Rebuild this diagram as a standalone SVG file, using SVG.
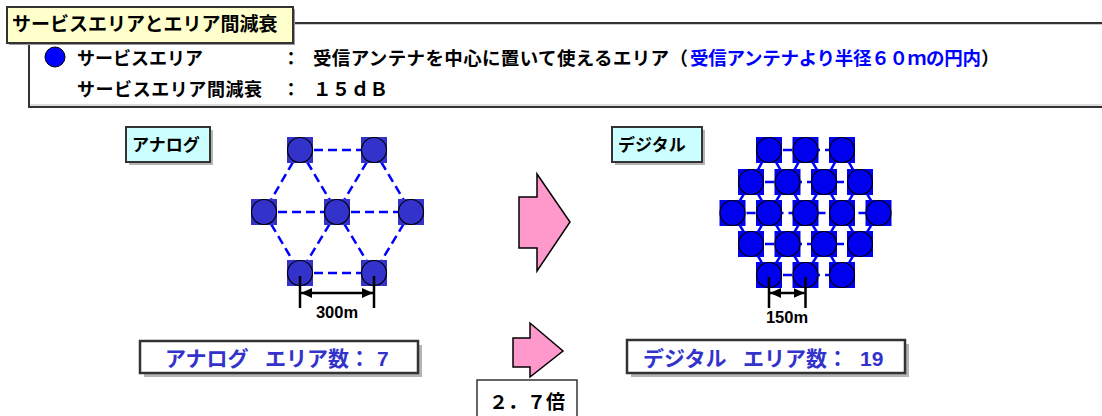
<svg xmlns="http://www.w3.org/2000/svg" width="1102" height="416" viewBox="0 0 1102 416">
<style>
.t{font-family:"Liberation Sans","Noto Sans CJK JP",sans-serif;font-weight:bold;}
.dash{stroke:#0000ff;stroke-width:2.5;stroke-dasharray:9 5;fill:none;}
.an rect{fill:#3333cc;}
.an circle{fill:#3333cc;stroke:#000;stroke-width:1.2;}
.dg rect{fill:#0000ee;}
.dg circle{fill:#0000ee;stroke:#000;stroke-width:1.2;}
.dim{stroke:#000;stroke-width:2.5;fill:none;}
.pink{fill:#ff99cc;stroke:#000;stroke-width:1.5;stroke-linejoin:miter;}
.shadow{fill:#b4b4b4;}
.frame{stroke:#333;stroke-width:2;}
</style>
<defs>
<marker id="ah" markerUnits="userSpaceOnUse" markerWidth="11" markerHeight="10" refX="11" refY="5" orient="auto-start-reverse">
<path d="M0,0 L11,5 L0,10 z" fill="#000"/>
</marker>
</defs>
<rect width="1102" height="416" fill="#fff"/>

<g id="frame">
<line x1="293" y1="24.5" x2="1102" y2="24.5" stroke="#ccc" stroke-width="1"/>
<line class="frame" x1="293" y1="23" x2="1102" y2="23"/>
<line x1="30" y1="105" x2="1102" y2="105" stroke="#bbb" stroke-width="1"/>
<line class="frame" x1="29" y1="107" x2="1102" y2="107"/>
<line class="frame" x1="29" y1="43" x2="29" y2="108"/>
</g>

<g id="title">
<rect x="9" y="9" width="286" height="36" fill="#999"/>
<rect x="7" y="7" width="286" height="36" fill="#ffffcc" stroke="#333" stroke-width="2"/>
<text class="t" x="12" y="31" font-size="19" fill="#000">サービスエリアとエリア間減衰</text>
</g>

<g id="legend">
<circle cx="55" cy="57" r="10" fill="#0000ff" stroke="#000" stroke-width="1"/>
<text class="t" x="77" y="65" font-size="18" fill="#000">サービスエリア</text>
<text class="t" x="291" y="65" font-size="18" fill="#000" text-anchor="middle">：</text>
<text class="t" x="313" y="65" font-size="18.5" fill="#000" textLength="375">受信アンテナを中心に置いて使えるエリア（</text>
<text class="t" x="690" y="65" font-size="18.5" fill="#0000ff" textLength="291">受信アンテナより半径６０ｍの円内</text>
<text class="t" x="981" y="65" font-size="18.5" fill="#000">）</text>
<text class="t" x="77" y="96" font-size="18" fill="#000" textLength="185">サービスエリア間減衰</text>
<text class="t" x="291" y="96" font-size="18" fill="#000" text-anchor="middle">：</text>
<text class="t" x="313" y="96" font-size="18.5" fill="#000" textLength="75">１５ｄＢ</text>
</g>

<g id="label-analog">
<rect class="shadow" x="129" y="130" width="84" height="35"/>
<rect x="126" y="127" width="84" height="35" fill="#ccffff" stroke="#333" stroke-width="2"/>
<text class="t" x="132" y="151" font-size="17" fill="#000">アナログ</text>
</g>

<g id="label-digital">
<rect class="shadow" x="615" y="130" width="90" height="35"/>
<rect x="612" y="127" width="90" height="35" fill="#ccffff" stroke="#333" stroke-width="2"/>
<text class="t" x="618" y="151" font-size="17" fill="#000">デジタル</text>
</g>

<g id="connectors">
<line class="dash" x1="300" y1="150" x2="374" y2="150"/>
<line class="dash" x1="264" y1="212" x2="337" y2="212"/>
<line class="dash" x1="337" y1="212" x2="411" y2="212"/>
<line class="dash" x1="300" y1="273" x2="374" y2="273"/>
<line class="dash" x1="300" y1="150" x2="264" y2="212"/>
<line class="dash" x1="300" y1="150" x2="337" y2="212"/>
<line class="dash" x1="374" y1="150" x2="337" y2="212"/>
<line class="dash" x1="374" y1="150" x2="411" y2="212"/>
<line class="dash" x1="264" y1="212" x2="300" y2="273"/>
<line class="dash" x1="337" y1="212" x2="300" y2="273"/>
<line class="dash" x1="337" y1="212" x2="374" y2="273"/>
<line class="dash" x1="411" y1="212" x2="374" y2="273"/>
<line class="dash" x1="769" y1="150" x2="842" y2="150"/>
<line class="dash" x1="751" y1="182" x2="860" y2="182"/>
<line class="dash" x1="732.5" y1="213" x2="878.5" y2="213"/>
<line class="dash" x1="751" y1="244" x2="860" y2="244"/>
<line class="dash" x1="769" y1="275" x2="842" y2="275"/>
<path class="dash" d="M769,150 L751,182 M769,150 L787.5,182 M805.5,150 L787.5,182 M805.5,150 L824,182 M842,150 L824,182 M842,150 L860,182
M751,182 L732.5,213 M751,182 L769,213 M787.5,182 L769,213 M787.5,182 L805.5,213 M824,182 L805.5,213 M824,182 L842,213 M860,182 L842,213 M860,182 L878.5,213
M732.5,213 L751,244 M769,213 L751,244 M769,213 L787.5,244 M805.5,213 L787.5,244 M805.5,213 L824,244 M842,213 L824,244 M842,213 L860,244 M878.5,213 L860,244
M751,244 L769,275 M787.5,244 L769,275 M787.5,244 L805.5,275 M824,244 L805.5,275 M824,244 L842,275 M860,244 L842,275"/>
</g>

<g id="analog-nodes" class="an">
<g id="a1"><rect x="287" y="137" width="26" height="26"/><circle cx="300" cy="150" r="12.5"/></g>
<g id="a2"><rect x="361" y="137" width="26" height="26"/><circle cx="374" cy="150" r="12.5"/></g>
<g id="a3"><rect x="251" y="199" width="26" height="26"/><circle cx="264" cy="212" r="12.5"/></g>
<g id="a4"><rect x="324" y="199" width="26" height="26"/><circle cx="337" cy="212" r="12.5"/></g>
<g id="a5"><rect x="398" y="199" width="26" height="26"/><circle cx="411" cy="212" r="12.5"/></g>
<g id="a6"><rect x="287" y="260" width="26" height="26"/><circle cx="300" cy="273" r="12.5"/></g>
<g id="a7"><rect x="361" y="260" width="26" height="26"/><circle cx="374" cy="273" r="12.5"/></g>
</g>

<g id="digital-nodes" class="dg">
<g id="d1"><rect x="756" y="137" width="26" height="26"/><circle cx="769" cy="150" r="12.5"/></g>
<g id="d2"><rect x="792.5" y="137" width="26" height="26"/><circle cx="805.5" cy="150" r="12.5"/></g>
<g id="d3"><rect x="829" y="137" width="26" height="26"/><circle cx="842" cy="150" r="12.5"/></g>
<g id="d4"><rect x="738" y="169" width="26" height="26"/><circle cx="751" cy="182" r="12.5"/></g>
<g id="d5"><rect x="774.5" y="169" width="26" height="26"/><circle cx="787.5" cy="182" r="12.5"/></g>
<g id="d6"><rect x="811" y="169" width="26" height="26"/><circle cx="824" cy="182" r="12.5"/></g>
<g id="d7"><rect x="847" y="169" width="26" height="26"/><circle cx="860" cy="182" r="12.5"/></g>
<g id="d8"><rect x="719.5" y="200" width="26" height="26"/><circle cx="732.5" cy="213" r="12.5"/></g>
<g id="d9"><rect x="756" y="200" width="26" height="26"/><circle cx="769" cy="213" r="12.5"/></g>
<g id="d10"><rect x="792.5" y="200" width="26" height="26"/><circle cx="805.5" cy="213" r="12.5"/></g>
<g id="d11"><rect x="829" y="200" width="26" height="26"/><circle cx="842" cy="213" r="12.5"/></g>
<g id="d12"><rect x="865.5" y="200" width="26" height="26"/><circle cx="878.5" cy="213" r="12.5"/></g>
<g id="d13"><rect x="738" y="231" width="26" height="26"/><circle cx="751" cy="244" r="12.5"/></g>
<g id="d14"><rect x="774.5" y="231" width="26" height="26"/><circle cx="787.5" cy="244" r="12.5"/></g>
<g id="d15"><rect x="811" y="231" width="26" height="26"/><circle cx="824" cy="244" r="12.5"/></g>
<g id="d16"><rect x="847" y="231" width="26" height="26"/><circle cx="860" cy="244" r="12.5"/></g>
<g id="d17"><rect x="756" y="262" width="26" height="26"/><circle cx="769" cy="275" r="12.5"/></g>
<g id="d18"><rect x="792.5" y="262" width="26" height="26"/><circle cx="805.5" cy="275" r="12.5"/></g>
<g id="d19"><rect x="829" y="262" width="26" height="26"/><circle cx="842" cy="275" r="12.5"/></g>
</g>

<g id="dim-analog">
<line class="dim" x1="300" y1="276" x2="300" y2="308"/>
<line class="dim" x1="374" y1="276" x2="374" y2="308"/>
<line class="dim" x1="301" y1="293" x2="373" y2="293" marker-start="url(#ah)" marker-end="url(#ah)"/>
<text class="t" x="337" y="318" font-size="16.5" fill="#000" text-anchor="middle">300m</text>
</g>

<g id="dim-digital">
<line class="dim" x1="769" y1="277" x2="769" y2="308"/>
<line class="dim" x1="805.5" y1="277" x2="805.5" y2="308"/>
<line class="dim" x1="770" y1="293" x2="804.5" y2="293" marker-start="url(#ah)" marker-end="url(#ah)"/>
<text class="t" x="787" y="323" font-size="16.5" fill="#000" text-anchor="middle">150m</text>
</g>

<g id="arrow-big">
<polygon class="pink" points="519,197 537,197 537,174 570,222 537,271 537,248 519,248"/>
</g>

<g id="arrow-small">
<polygon class="pink" points="513,338 530,338 530,323 563,351 530,377 530,367 513,367"/>
</g>

<g id="count-analog">
<rect class="shadow" x="144" y="345" width="278" height="32"/>
<rect x="140" y="341" width="278" height="32" fill="#fff" stroke="#333" stroke-width="2.5"/>
<text class="t" y="366" font-size="21" fill="#3333cc"><tspan x="165">アナログ</tspan><tspan x="265">エリア数：</tspan><tspan x="377">7</tspan></text>
</g>

<g id="count-digital">
<rect class="shadow" x="631" y="344" width="278" height="33"/>
<rect x="627" y="340" width="278" height="33" fill="#fff" stroke="#333" stroke-width="2.5"/>
<text class="t" y="366" font-size="21" fill="#3333cc"><tspan x="643">デジタル</tspan><tspan x="743">エリア数：</tspan><tspan x="860">19</tspan></text>
</g>

<g id="ratio">
<rect x="477" y="380" width="100" height="50" fill="#fff" stroke="#333" stroke-width="1.5"/>
<text class="t" x="527" y="409" font-size="19" fill="#000" text-anchor="middle">２．７倍</text>
</g>
</svg>
